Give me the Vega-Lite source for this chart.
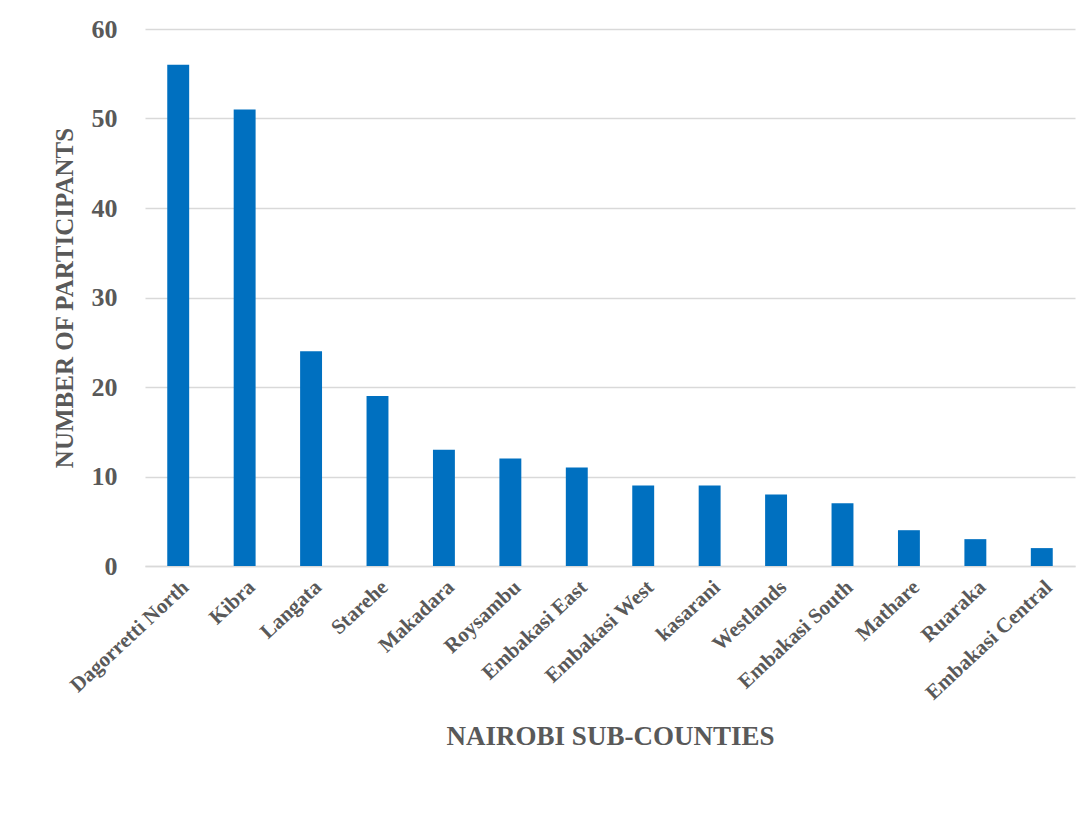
{
  "$schema": "https://vega.github.io/schema/vega-lite/v6.json",
  "width": 930,
  "height": 537,
  "autosize": {"type": "none"},
  "padding": {"left": 145, "top": 29, "right": 14, "bottom": 267},
  "background": "white",
  "config": {
    "view": {"stroke": null},
    "font": "Liberation Serif"
  },
  "data": {
    "values": [
      {"subcounty": "Dagorretti North", "participants": 56},
      {"subcounty": "Kibra", "participants": 51},
      {"subcounty": "Langata", "participants": 24},
      {"subcounty": "Starehe", "participants": 19},
      {"subcounty": "Makadara", "participants": 13},
      {"subcounty": "Roysambu", "participants": 12},
      {"subcounty": "Embakasi East", "participants": 11},
      {"subcounty": "Embakasi West", "participants": 9},
      {"subcounty": "kasarani", "participants": 9},
      {"subcounty": "Westlands", "participants": 8},
      {"subcounty": "Embakasi South", "participants": 7},
      {"subcounty": "Mathare", "participants": 4},
      {"subcounty": "Ruaraka", "participants": 3},
      {"subcounty": "Embakasi Central", "participants": 2}
    ]
  },
  "mark": {"type": "bar", "color": "#0070C0"},
  "encoding": {
    "x": {
      "field": "subcounty",
      "type": "nominal",
      "sort": null,
      "scale": {"paddingInner": 0.67, "paddingOuter": 0.335},
      "axis": {
        "title": "NAIROBI SUB-COUNTIES",
        "titleFont": "Liberation Serif",
        "titleFontSize": 27,
        "titleFontWeight": "bold",
        "titleColor": "#595959",
        "titlePadding": 20,
        "labelAngle": -43,
        "labelFont": "Liberation Serif",
        "labelFontSize": 21,
        "labelFontWeight": "bold",
        "labelColor": "#595959",
        "labelPadding": 10,
        "ticks": false,
        "domainColor": "#d9d9d9",
        "domainWidth": 1.5,
        "labelOverlap": false
      }
    },
    "y": {
      "field": "participants",
      "type": "quantitative",
      "scale": {"domain": [0, 60], "nice": false},
      "axis": {
        "title": "NUMBER OF PARTICIPANTS",
        "titleFont": "Liberation Serif",
        "titleFontSize": 25,
        "titleFontWeight": "bold",
        "titleColor": "#595959",
        "titlePadding": 14,
        "values": [0, 10, 20, 30, 40, 50, 60],
        "labelFont": "Liberation Serif",
        "labelFontSize": 26,
        "labelFontWeight": "bold",
        "labelColor": "#595959",
        "labelPadding": 28,
        "ticks": false,
        "domain": false,
        "gridColor": "#d9d9d9",
        "gridWidth": 1.5
      }
    }
  }
}
